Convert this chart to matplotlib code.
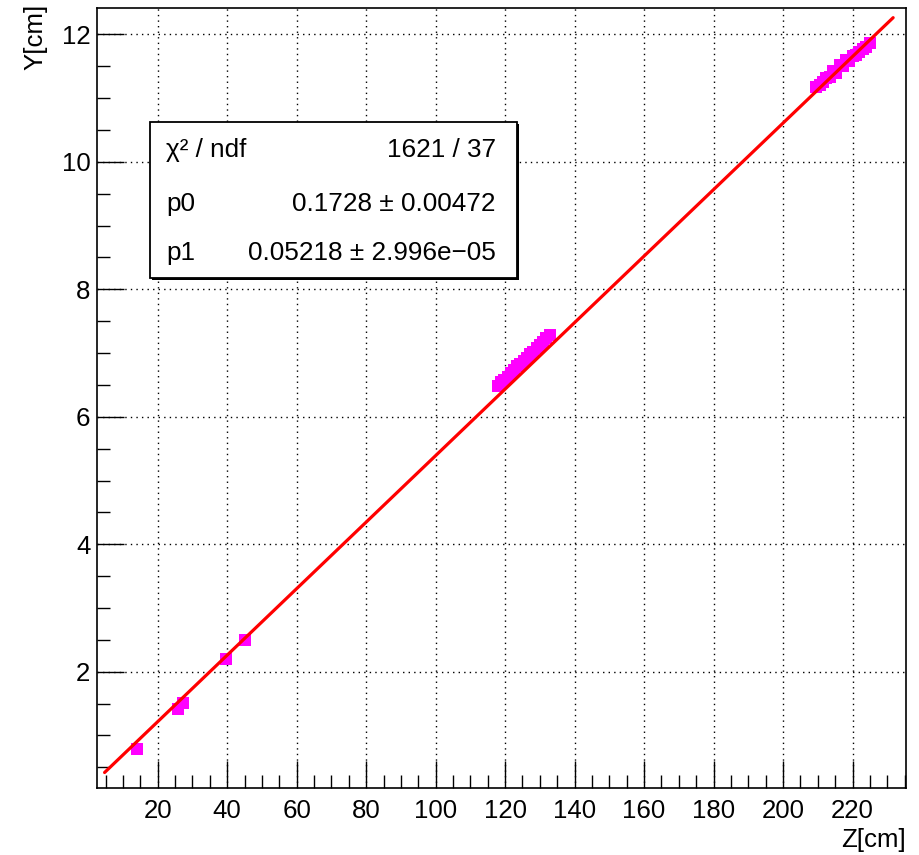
import numpy as np
import matplotlib
matplotlib.use("Agg")
import matplotlib.pyplot as plt
from matplotlib.patches import Rectangle
from matplotlib.ticker import MultipleLocator

# ---- data ----
z_low = [14.1, 25.7, 27.4, 39.7, 45.1]
y_low = [0.78, 1.42, 1.51, 2.20, 2.50]

z_mid = [117.9, 118.8, 119.8, 120.7, 121.6, 122.6, 123.5, 124.4, 125.4,
         126.3, 127.2, 128.1, 129.1, 130.0, 131.0, 131.9, 132.9]
y_mid = [6.49, 6.54, 6.58, 6.63, 6.69, 6.73, 6.79, 6.83, 6.87,
         6.93, 6.98, 7.02, 7.08, 7.12, 7.17, 7.23, 7.28]

z_high = [209.6, 210.5, 211.5, 212.5, 213.4, 214.4, 215.3, 216.3, 217.2,
          218.2, 219.1, 220.1, 221.0, 222.0, 223.0, 224.0, 225.0]
y_high = [11.17, 11.20, 11.25, 11.31, 11.33, 11.42, 11.40, 11.52, 11.50,
          11.60, 11.58, 11.66, 11.68, 11.73, 11.77, 11.81, 11.86]

p0 = 0.1728
p1 = 0.05218
fit_range = [4.7, 231.7]

stats_labels = ["\u03c7\u00b2 / ndf", "p0", "p1"]
stats_values = ["1621 / 37", "0.1728 \u00b1 0.00472", "0.05218 \u00b1 2.996e\u221205"]

x_title = "Z[cm]"
y_title = "Y[cm]"

# ---- figure ----
plt.rcParams['font.family'] = ['Liberation Sans', 'DejaVu Sans']
W, H = 920, 855
fig = plt.figure(figsize=(W / 100, H / 100), dpi=100)

def fx(px):
    return px / W

def fy(py):
    return 1 - py / H

left, right, top, bottom = 97.3, 906.0, 8.3, 788.3
ax = fig.add_axes([fx(left), fy(bottom), (right - left) / W, (bottom - top) / H])

z_all = z_low + z_mid + z_high
y_all = y_low + y_mid + y_high
ax.plot(z_all, y_all, linestyle='none', marker='s', markersize=8.0,
        color='#ff00ff', markeredgewidth=0, zorder=3)

zf = np.array(fit_range)
ax.plot(zf, p0 + p1 * zf, color='#ff0000', linewidth=2.3, zorder=4,
        solid_capstyle='round')

ax.set_xlim(2.6, 235.4)
ax.set_ylim(0.17, 12.41)

ax.xaxis.set_major_locator(MultipleLocator(20))
ax.xaxis.set_minor_locator(MultipleLocator(5))
ax.yaxis.set_major_locator(MultipleLocator(2))
ax.yaxis.set_minor_locator(MultipleLocator(0.5))

ax.tick_params(which='both', direction='in', top=False, right=False, width=1.0,
               color='black')
ax.tick_params(which='major', length=19.5)
ax.tick_params(which='minor', length=9.4)
ax.tick_params(axis='x', which='major', labelsize=18.6, pad=8)
ax.tick_params(axis='y', which='major', labelsize=18.6, pad=5)

ax.grid(True, which='major', color='black', linestyle=(0, (1, 3)), linewidth=1.0)
ax.set_axisbelow(True)

for sp in ax.spines.values():
    sp.set_linewidth(1.2)
    sp.set_color('black')

fig.text(fx(906), fy(847), x_title, ha='right', va='baseline', fontsize=18.6)
fig.text(fx(47), fy(4), y_title, ha='right', va='top', rotation=90, fontsize=18.6)

# ---- stats box ----
bx0, by0, bx1, by1 = 150.0, 121.7, 516.7, 278.3
shadow = Rectangle((fx(bx0 + 2), fy(by1 + 2)), (bx1 - bx0) / W, (by1 - by0) / H,
                   transform=fig.transFigure, facecolor='black', edgecolor='black',
                   linewidth=0, zorder=10)
box = Rectangle((fx(bx0), fy(by1)), (bx1 - bx0) / W, (by1 - by0) / H,
                transform=fig.transFigure, facecolor='white', edgecolor='black',
                linewidth=1.3, zorder=11)
fig.add_artist(shadow)
fig.add_artist(box)

row_base = [157, 211, 260]
for lab, val, yb in zip(stats_labels, stats_values, row_base):
    fig.text(fx(166), fy(yb), lab, ha='left', va='baseline', fontsize=18.8, zorder=12)
    fig.text(fx(496), fy(yb), val, ha='right', va='baseline', fontsize=18.8, zorder=12)

fig.savefig("out.png", dpi=100)
